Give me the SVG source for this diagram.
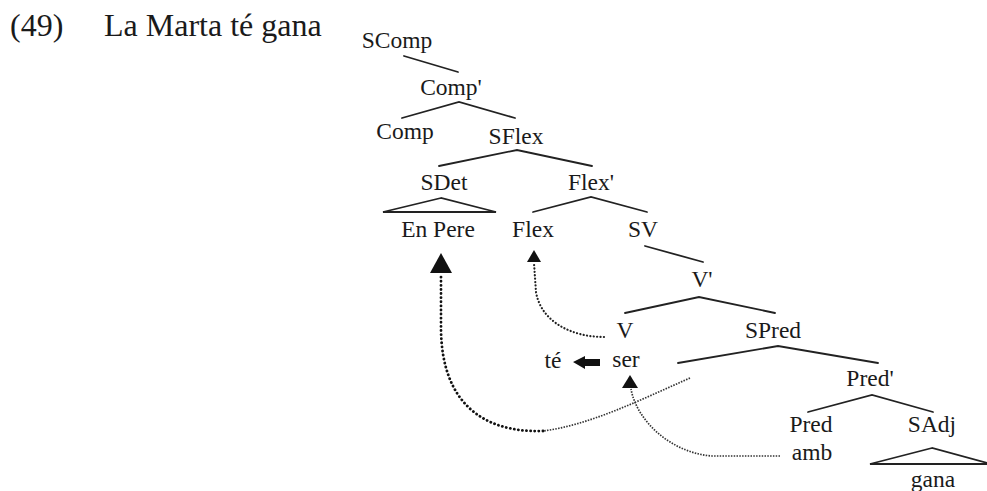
<svg xmlns="http://www.w3.org/2000/svg" width="987" height="491" viewBox="0 0 987 491">
<defs>
<style>
text{font-family:"Liberation Serif","Times New Roman",serif;fill:#1a1a1a}
.t{font-size:23.5px;text-anchor:middle}
.h{font-size:32px}
.e{stroke:#222;stroke-width:1.8;fill:none;stroke-linecap:round}
.tri{stroke:#222;stroke-width:1.8;fill:none;stroke-linejoin:miter}
.d1{stroke:#111;stroke-width:2.8;fill:none;stroke-dasharray:0.1 4;stroke-linecap:round}
.d2{stroke:#222;stroke-width:2.2;fill:none;stroke-dasharray:0.1 3.3;stroke-linecap:round}
.d3{stroke:#333;stroke-width:1.7;fill:none;stroke-dasharray:1.5 1.3}
.ah{fill:#111}
</style>
</defs>
<rect width="987" height="491" fill="#fff"/>
<g id="title">
<text class="h" x="10" y="36">(49)</text>
<text class="h" x="104" y="36">La Marta té gana</text>
</g>
<g id="edges">
<line class="e" x1="404" y1="56" x2="458" y2="72"/>
<polyline class="e" points="402,118 459,102 515,118"/>
<polyline class="e" points="439,166 517,150 592,166"/>
<polygon class="tri" points="441,198 383,212 496,212"/>
<polyline class="e" points="533,212 591,197 647,212"/>
<line class="e" x1="645" y1="246" x2="703" y2="262"/>
<polyline class="e" points="625,313 699,297 775,313"/>
<polyline class="e" points="678,363 778,346 878,363"/>
<polyline class="e" points="808,412 872,395 933,412"/>
<polygon class="tri" points="932,448 870,464 987,464 987,463"/>
</g>
<g id="nodes">
<g id="n-scomp"><text class="t" x="397" y="48">SComp</text></g>
<g id="n-compbar"><text class="t" x="451" y="95">Comp'</text></g>
<g id="n-comp"><text class="t" x="405" y="139">Comp</text></g>
<g id="n-sflex"><text class="t" x="516" y="144">SFlex</text></g>
<g id="n-sdet"><text class="t" x="444" y="190">SDet</text></g>
<g id="n-flexbar"><text class="t" x="591" y="190">Flex'</text></g>
<g id="n-enpere"><text class="t" x="438" y="237">En Pere</text></g>
<g id="n-flex"><text class="t" x="533" y="237">Flex</text></g>
<g id="n-sv"><text class="t" x="643" y="237">SV</text></g>
<g id="n-vbar"><text class="t" x="702" y="287">V'</text></g>
<g id="n-v"><text class="t" x="625" y="338">V</text></g>
<g id="n-spred"><text class="t" x="773" y="338">SPred</text></g>
<g id="n-ser"><text class="t" x="626" y="367">ser</text></g>
<g id="n-te"><text class="t" x="553" y="368">té</text></g>
<g id="n-predbar"><text class="t" x="870" y="386">Pred'</text></g>
<g id="n-pred"><text class="t" x="811" y="432">Pred</text></g>
<g id="n-sadj"><text class="t" x="932" y="432">SAdj</text></g>
<g id="n-amb"><text class="t" x="812" y="460">amb</text></g>
<g id="n-gana"><text class="t" x="933" y="487">gana</text></g>
</g>
<g id="connectors">
<path class="d3" d="M690,378 C640,400 590,425 543,431"/>
<path class="d1" d="M543,431 C480,433 442,400 441,330 L441,274"/>
<polygon class="ah" points="441,253 430,273 452,273"/>
<path class="d2" d="M604,337 C572,337 541,322 536,292 L534,263"/>
<polygon class="ah" points="534,250 527,262 541,262"/>
<path class="d3" d="M780,456 L712,456 C672,453 637,422 631,389"/>
<polygon class="ah" points="630,375 622,388 638,388"/>
<polygon class="ah" points="573,362 585,356 585,359 600,359 600,366 585,366 585,369"/>
</g>
</svg>
